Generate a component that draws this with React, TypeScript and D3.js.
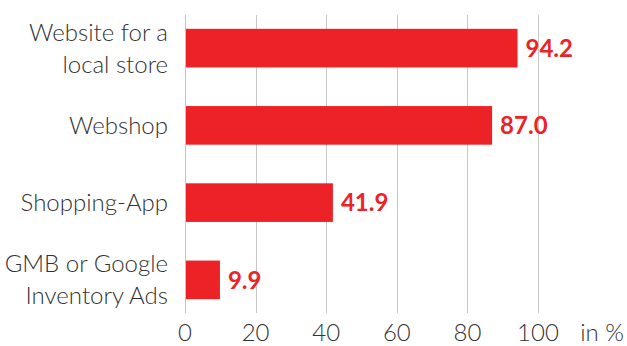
import React from "react";
import * as d3 from "d3";

const categories: string[][] = [
  ["Website for a", "local store"],
  ["Webshop"],
  ["Shopping-App"],
  ["GMB or Google", "Inventory Ads"],
];
const values: number[] = [94.2, 87.0, 41.9, 9.9];
const tickValues: number[] = [0, 20, 40, 60, 80, 100];
const unitLabel = "in %";

const W = 627;
const H = 346;
const RED = "#ec2227";
const FONT = "Lato, 'Open Sans', sans-serif";

export default function App() {
  const x = d3.scaleLinear().domain([0, 100]).range([185, 538]);
  const y = d3
    .scaleBand<number>()
    .domain(values.map((_, i) => i))
    .range([9.5, 318.5])
    .paddingInner(0.5)
    .paddingOuter(0.25);
  const bw = y.bandwidth();

  return (
    <svg
      width={W}
      height={H}
      style={{ position: "absolute", left: 0, top: 0, background: "#fff" }}
      fontFamily={FONT}
    >
      {tickValues.map((t) => (
        <line
          key={"g" + t}
          x1={Math.round(x(t)) + 0.5}
          x2={Math.round(x(t)) + 0.5}
          y1={15}
          y2={313}
          stroke="#c8c8c8"
          strokeWidth={1}
        />
      ))}
      {values.map((v, i) => (
        <rect
          key={"b" + i}
          x={x(0)}
          y={y(i)!}
          width={x(v) - x(0)}
          height={bw}
          fill={RED}
        />
      ))}
      <line x1={185.5} x2={185.5} y1={15} y2={313} stroke="#f3b0b2" strokeWidth={1} />
      {values.map((v, i) => (
        <text
          key={"v" + i}
          x={x(v) + 8}
          y={y(i)! + bw / 2}
          dy="0.36em"
          fill={RED}
          fontWeight={700}
          fontSize={24}
        >
          {v.toFixed(1)}
        </text>
      ))}
      {categories.map((lines, i) => {
        const cy = y(i)! + bw / 2;
        const lh = 32;
        const start = cy - ((lines.length - 1) * lh) / 2;
        return (
          <text
            key={"c" + i}
            textAnchor="end"
            fill="#333"
            fontWeight={300}
            fontSize={24}
          >
            {lines.map((l, j) => (
              <tspan key={j} x={168} y={start + j * lh} dy="0.35em">
                {l}
              </tspan>
            ))}
          </text>
        );
      })}
      {tickValues.map((t) => (
        <text
          key={"t" + t}
          x={x(t)}
          y={333}
          dy="0.35em"
          textAnchor="middle"
          fill="#333"
          fontWeight={300}
          fontSize={24}
        >
          {t}
        </text>
      ))}
      <text
        x={624}
        y={333}
        dy="0.35em"
        textAnchor="end"
        fill="#333"
        fontWeight={300}
        fontSize={24}
      >
        {unitLabel}
      </text>
    </svg>
  );
}
